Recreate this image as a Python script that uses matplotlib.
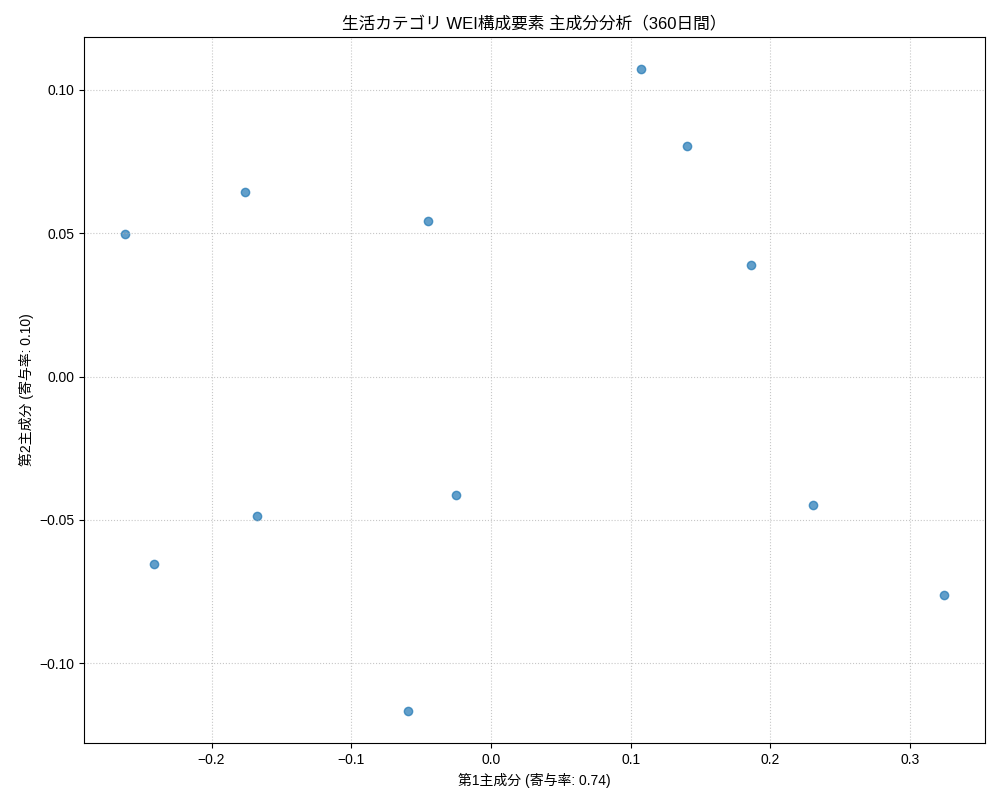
import numpy as np
import matplotlib
matplotlib.use('Agg')
import matplotlib.pyplot as plt

plt.rcParams['font.family'] = ['Liberation Sans', 'Noto Sans CJK JP', 'DejaVu Sans']
plt.rcParams['axes.unicode_minus'] = True

# 主成分スコア (PC1, PC2)
pc1 = [0.1074, 0.1403, -0.1761, -0.2620, -0.0451, 0.1861,
       -0.0251, -0.1675, 0.2305, -0.2412, 0.3243, -0.0594]
pc2 = [0.1072, 0.0803, 0.0642, 0.0496, 0.0541, 0.0387,
       -0.0412, -0.0485, -0.0447, -0.0653, -0.0761, -0.1166]
ratio1 = 0.74
ratio2 = 0.10

fig, ax = plt.subplots(figsize=(10, 8), dpi=100)
ax.scatter(pc1, pc2, alpha=0.7)
ax.set_xlabel(f'第1主成分 (寄与率: {ratio1:.2f})')
ax.set_ylabel(f'第2主成分 (寄与率: {ratio2:.2f})')
ax.set_title('生活カテゴリ WEI構成要素 主成分分析（360日間）')
ax.grid(True, linestyle=':', alpha=0.7)
ax.set_yticks([-0.10, -0.05, 0.00, 0.05, 0.10])

fig.subplots_adjust(left=0.084, right=0.985, top=0.954, bottom=0.071)
plt.savefig('out.png')
